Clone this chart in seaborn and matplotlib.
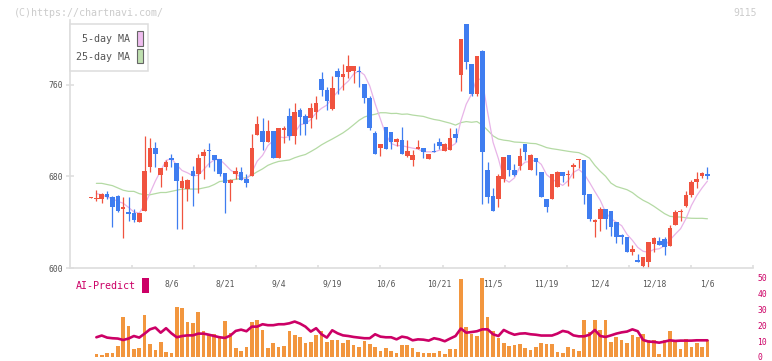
import numpy as np
import pandas as pd
import matplotlib.pyplot as plt
from matplotlib.patches import Rectangle
import seaborn as sns

# daily candles (first candle = 7/16)
opens = [661, 660, 660, 665, 662, 663, 652, 649, 648, 640,
         650, 688, 705, 681, 688, 696, 692, 670, 669, 685,
         682, 698, 703, 699, 695, 683, 674, 682, 684, 678,
         680, 716, 720, 710, 720, 696, 721, 733, 715, 738,
         733, 731, 736, 765, 756, 739, 772, 767, 771, 772,
         772, 761, 749, 718, 705, 723, 719, 710, 712, 698,
         694, 704, 705, 695, 702, 710, 702, 703, 717, 769,
         813, 778, 752, 790, 686, 663, 660, 678, 699, 686,
         689, 708, 686, 696, 684, 660, 660, 671, 684, 681,
         688, 694, 694, 665, 640, 643, 652, 650, 640, 629,
         627, 614, 607, 602, 605, 621, 624, 625, 619, 638,
         649, 654, 664, 675, 680, 682]
highs = [662, 668, 666, 667, 663, 664, 662, 662, 652, 648,
         715, 714, 710, 687, 694, 700, 692, 680, 678, 689,
         700, 704, 709, 699, 695, 683, 678, 688, 688, 682,
         717, 733, 731, 729, 720, 722, 724, 740, 744, 740,
         735, 744, 750, 771, 758, 768, 775, 778, 786, 777,
         777, 761, 750, 720, 708, 723, 719, 714, 723, 712,
         703, 712, 705, 700, 709, 714, 709, 722, 722, 800,
         813, 778, 785, 791, 693, 670, 682, 697, 699, 691,
         705, 708, 700, 696, 684, 660, 682, 685, 684, 686,
         692, 695, 694, 665, 643, 653, 652, 650, 640, 630,
         627, 620, 612, 610, 623, 627, 627, 627, 638, 651,
         652, 667, 677, 684, 684, 688]
lows = [661, 659, 657, 660, 636, 649, 626, 641, 640, 640,
        650, 684, 688, 671, 686, 688, 634, 634, 659, 654,
        666, 678, 688, 685, 680, 648, 659, 678, 677, 671,
        680, 716, 703, 710, 696, 696, 709, 712, 708, 716,
        716, 722, 730, 750, 738, 738, 752, 756, 766, 762,
        758, 744, 721, 700, 698, 704, 704, 707, 700, 697,
        689, 704, 696, 695, 701, 704, 702, 703, 710, 755,
        774, 750, 750, 656, 657, 650, 653, 675, 680, 680,
        686, 694, 686, 681, 662, 649, 660, 671, 675, 672,
        679, 687, 656, 641, 627, 632, 634, 628, 622, 621,
        614, 611, 605, 600, 600, 614, 620, 611, 619, 638,
        641, 653, 662, 670, 679, 678]
closes = [662, 661, 665, 662, 653, 650, 653, 647, 642, 648,
          685, 705, 700, 687, 693, 694, 676, 676, 677, 680,
          696, 701, 702, 694, 682, 674, 677, 685, 677, 674,
          705, 726, 710, 720, 696, 722, 721.5, 715, 736, 732,
          726, 740, 744, 756, 746, 757, 767, 770, 777, 777,
          771, 749, 722, 700, 708, 704, 710, 713, 700, 702,
          699, 706, 701, 700, 701, 707, 708, 714, 714, 800,
          780, 752, 785, 701, 662, 650, 680, 697, 686, 681,
          698, 701, 699, 693, 662, 653, 682, 684, 680, 682,
          690, 695, 664, 643, 642, 652, 643, 636, 627, 627,
          614, 617, 605, 610, 623, 626, 620, 618, 635, 649,
          650, 664, 675, 678, 683, 680]

# moving averages at the left edge need earlier days ->
ma5_head = [665, 664, 662]
ma25_head = [674, 674, 673, 672, 670, 668, 667, 667, 665, 664, 664, 665,
             666, 666, 667, 668, 669, 669, 669, 669, 670, 671, 673]

tick_labels = ['8/6', '8/21', '9/4', '9/19', '10/6', '10/21',
               '11/5', '11/19', '12/4', '12/18', '1/6']
tick_days = [15, 25, 35, 45, 55, 65, 75, 85, 95, 105, 115]

# AI-Predict panel (from the 2nd candle on)
ai_bar = [1.7, 1.1, 2.3, 2.3, 6.7, 25, 19.3, 4.8, 5.5, 26.2,
          8, 4.4, 9.2, 3, 2.3, 31.3, 30.6, 21.8, 21.2, 28.1,
          16.2, 14.3, 14.3, 12.4, 22.5, 14.9, 5.5, 3.6, 6.1, 21.8,
          23.1, 16.8, 5.5, 8.6, 6.1, 6.7, 16.2, 13.6, 12.4, 8.6,
          9.2, 13.6, 16.2, 9.2, 10.5, 10.5, 8.6, 10.5, 7.4, 6.1,
          9.9, 8, 6.1, 3.6, 5.5, 3.6, 2.3, 7.4, 7.4, 5.5,
          3, 2.3, 2.3, 2.3, 3.6, 1.7, 4.8, 4.8, 48.9, 18.7,
          14.3, 13, 49.5, 25, 16.2, 11.8, 8.6, 6.7, 7.4, 8,
          5.5, 4.2, 6.1, 8.6, 8, 8, 3, 2.3, 6.1, 4.8,
          3.6, 23.1, 15.5, 23.1, 16.8, 23.1, 9.2, 12.4, 10.5, 8.6,
          13.6, 12.4, 14.3, 10.5, 10.5, 1.7, 10.5, 16.2, 9.2, 4.8,
          11.2, 6.1, 8.6, 6.1, 10.5]
ai_line = [12.4, 13.5, 12.2, 11.8, 11.6, 10.7, 11.6, 13.2, 12.2, 14.7,
           17.4, 18.5, 15.3, 18.1, 14.9, 12.4, 13.2, 13.6, 13.6, 14.7,
           14.7, 14.0, 13.2, 12.4, 12.0, 13.5, 16.4, 17.2, 16.2, 19.1,
           19.1, 20.6, 20, 20, 20.6, 20.6, 21.2, 22.3, 21.0, 19.1,
           16.0, 18.1, 14.3, 12.2, 16.8, 14.9, 13.6, 13.2, 12.6, 12.2,
           11.8, 11.8, 14.3, 12.8, 12.4, 12.4, 11.1, 12.8, 12.2, 10.5,
           11.1, 10.9, 10.3, 11.8, 11.1, 9.9, 11.6, 13.2, 17.9, 15.3,
           15.7, 16.2, 17.4, 17.4, 14.3, 13.2, 17.0, 15.3, 14.0, 14.7,
           14.9, 14.3, 14.0, 13.5, 13.5, 13.5, 14.7, 16.4, 15.7, 13.6,
           13.0, 13.0, 14.0, 17.0, 13.2, 12.6, 13.6, 14.7, 15.5, 16.0,
           17.4, 16.2, 10.7, 9.7, 9.5, 9.0, 9.7, 10.5, 10.1, 10.3,
           10.3, 10.3, 10.5, 10.5, 10.5]

RED = '#f0533f'
BLUE = '#3f7df0'
PINK = '#e8b4e8'
GREEN = '#b4daa4'
ORANGE = '#f2963e'
CRIMSON = '#cc0066'
GRID = '#dddddd'
TXT = '#555555'

sns.set_theme(style='white')
plt.rcParams['font.family'] = ['DejaVu Sans Mono']

W, H = 772, 361
fig = plt.figure(figsize=(W / 100, H / 100), dpi=100)


def box(x0, y0, x1, y1):
    # pixel box (top-left origin) -> figure fraction
    return [x0 / W, 1 - y1 / H, (x1 - x0) / W, (y1 - y0) / H]


ax = fig.add_axes(box(70, 20, 753, 268))
ax2 = fig.add_axes(box(70, 277.5, 753, 357))
ax2.patch.set_visible(False)
ax.set_zorder(2)
ax.patch.set_visible(False)

df = pd.DataFrame({'o': opens, 'h': highs, 'l': lows, 'c': closes})
df['i'] = np.arange(len(df))
ma5 = df['c'].rolling(5).mean()
ma5.iloc[1:4] = ma5_head
ma25 = df['c'].rolling(25).mean()
ma25.iloc[1:24] = ma25_head

# moving averages
sns.lineplot(x=df['i'], y=ma25, ax=ax, color=GREEN, lw=0.9, errorbar=None, zorder=1)
sns.lineplot(x=df['i'], y=ma5, ax=ax, color=PINK, lw=0.9, errorbar=None, zorder=1)

# candles
up = df['c'] >= df['o']
cols = np.where(up, RED, BLUE)
ax.vlines(df['i'], df['l'], df['h'], colors=cols, lw=0.9, zorder=2)
body_lo = np.minimum(df['o'], df['c'])
body_h = np.maximum((df['c'] - df['o']).abs(), 1.2)
ax.bar(df['i'], body_h, bottom=body_lo, width=0.86, color=cols, linewidth=0, zorder=3)

x_lo, x_hi = -3.92, 123.5
ax.set_xlim(x_lo, x_hi)
ax.set_ylim(600, 816.8)
ax.set_xlabel('')
ax.set_ylabel('')
ax.set_yticks([600, 680, 760])
ax.set_xticks(tick_days)
ax.set_xticklabels(tick_labels)
ax.set_xticks([x_lo + (x_hi - x_lo) * k / 11 for k in range(1, 12)], minor=True)
ax.tick_params(axis='y', left=True, direction='inout', length=6, width=1.1,
               color=GRID, labelsize=5.8, labelcolor=TXT, pad=2)
ax.tick_params(axis='x', which='major', bottom=True, length=0, pad=8,
               labelsize=5.8, labelcolor=TXT)
ax.tick_params(axis='x', which='minor', bottom=True, direction='in', length=2.5,
               width=1.1, color=GRID)
for s in ['top', 'right']:
    ax.spines[s].set_visible(False)
for s in ['left', 'bottom']:
    ax.spines[s].set_color(GRID)
    ax.spines[s].set_linewidth(1.2)

# AI-Predict panel
xs = df['i'].iloc[1:].to_numpy()
sns.barplot(x=xs, y=ai_bar, native_scale=True, color=ORANGE, saturation=1,
            width=0.68, errorbar=None, ax=ax2, linewidth=0, zorder=1)
sns.lineplot(x=xs, y=ai_line, ax=ax2, color=CRIMSON, lw=1.9, errorbar=None, zorder=2)
ax2.set_xlim(x_lo, x_hi)
ax2.set_ylim(0, 50)
ax2.set_xlabel('')
ax2.set_ylabel('')
ax2.set_xticks([])
ax2.yaxis.tick_right()
ax2.set_yticks([0, 10, 20, 30, 40, 50])
ax2.tick_params(axis='y', right=True, length=0, labelsize=5.8, labelcolor=CRIMSON, pad=3)
for s in ax2.spines.values():
    s.set_visible(False)

# legend box
fig.add_artist(Rectangle((70 / W, 1 - 71 / H), 78 / W, 47 / H, transform=fig.transFigure,
                         facecolor='white', edgecolor=GRID, lw=1.1, zorder=5))
fig.add_artist(Rectangle((136.5 / W, 1 - 46 / H), 6 / W, 15 / H, transform=fig.transFigure,
                         facecolor='#efbdef', edgecolor='#666666', lw=0.8, zorder=6))
fig.add_artist(Rectangle((136.5 / W, 1 - 63 / H), 6 / W, 14.5 / H, transform=fig.transFigure,
                         facecolor='#bfe0b0', edgecolor='#666666', lw=0.8, zorder=6))
fig.text(129.5 / W, 1 - 39.5 / H, '5-day MA', ha='right', va='center',
         fontsize=7.2, color=TXT, zorder=6)
fig.text(129.5 / W, 1 - 57 / H, '25-day MA', ha='right', va='center',
         fontsize=7.2, color=TXT, zorder=6)

# AI-Predict label
fig.text(76 / W, 1 - 286 / H, 'AI-Predict', ha='left', va='center',
         fontsize=7.2, color=CRIMSON)
fig.add_artist(Rectangle((142 / W, 1 - 293 / H), 6.5 / W, 15.5 / H, transform=fig.transFigure,
                         facecolor=CRIMSON, edgecolor='none'))

# watermark / code
fig.text(14 / W, 1 - 12.5 / H, '(C)https://chartnavi.com/', ha='left', va='center',
         fontsize=7.2, color='#cccccc')
fig.text(757 / W, 1 - 12.5 / H, '9115', ha='right', va='center',
         fontsize=7, color='#cccccc')

fig.savefig('out.png', dpi=100)
